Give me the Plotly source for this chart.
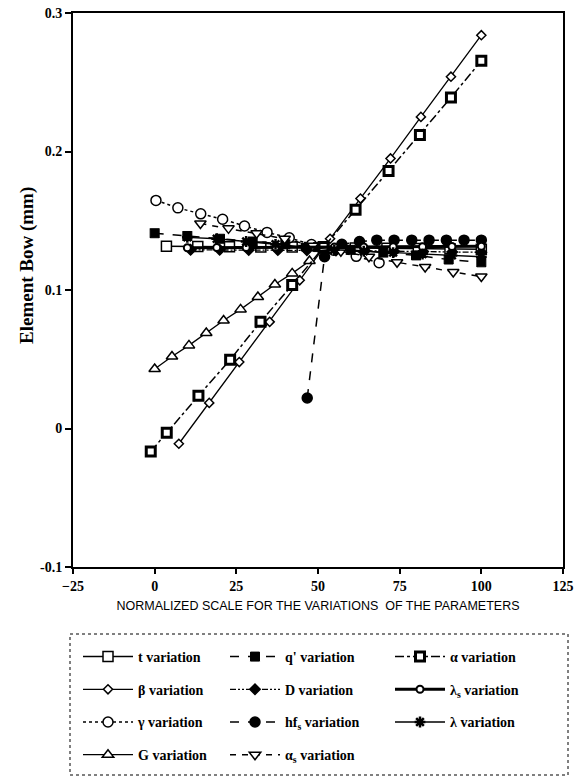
import plotly.graph_objects as go

# ---- data ----
t_x = [3.6, 13.2, 22.9, 32.5, 42.1, 51.8, 61.4, 71.1, 80.7, 90.4, 100]
t_y = [0.1316, 0.1314, 0.1313, 0.1311, 0.1310, 0.1306, 0.1304, 0.1302, 0.1300, 0.1298, 0.1295]

q_x = [0, 10, 20, 30, 40, 50, 60, 70, 80, 90, 100]
q_y = [0.141, 0.139, 0.137, 0.135, 0.133, 0.131, 0.129, 0.127, 0.125, 0.122, 0.120]

alpha_x = [-1.2, 3.7, 13.4, 23.1, 32.4, 42.1, 51.7, 61.5, 71.6, 81.2, 90.7, 100]
alpha_y = [-0.0166, -0.003, 0.0236, 0.0496, 0.077, 0.1036, 0.131, 0.158, 0.186, 0.212, 0.239, 0.2655]

beta_x = [7.4, 16.7, 25.9, 35.2, 44.4, 53.7, 63, 72.2, 81.5, 90.7, 100]
beta_y = [-0.011, 0.0185, 0.048, 0.077, 0.107, 0.137, 0.166, 0.195, 0.225, 0.254, 0.284]

d_x = [11, 19.9, 28.8, 37.7, 46.6, 55.5, 64.4, 73.3, 82.2, 91.1, 100]
d_y = [0.1290, 0.1290, 0.1289, 0.1288, 0.1287, 0.1285, 0.1283, 0.1280, 0.1278, 0.1275, 0.1272]

ls_x = [10, 19, 28, 37, 46, 55, 64, 73, 82, 91, 100]
ls_y = [0.1305, 0.1306, 0.1307, 0.1308, 0.1309, 0.1310, 0.1311, 0.1312, 0.1313, 0.1314, 0.1315]

gamma_x = [0.4, 7.1, 14.1, 20.8, 27.5, 34.4, 41.2, 48, 54.8, 61.7, 68.7]
gamma_y = [0.1647, 0.1593, 0.155, 0.1511, 0.1462, 0.1416, 0.1377, 0.1328, 0.1287, 0.1243, 0.1197]

hfs_x = [46.7, 52, 57.3, 62.7, 68, 73.3, 78.7, 84, 89.3, 94.7, 100]
hfs_y = [0.022, 0.124, 0.133, 0.135, 0.136, 0.136, 0.136, 0.136, 0.136, 0.136, 0.136]

lam_x = [10, 19, 28, 37, 46, 55, 64, 73, 82, 91, 100]
lam_y = [0.138, 0.137, 0.135, 0.133, 0.131, 0.129, 0.128, 0.127, 0.126, 0.125, 0.124]

g_x = [0, 5.3, 10.5, 15.8, 21.1, 26.3, 31.6, 36.8, 42.1, 47.4]
g_y = [0.043, 0.052, 0.060, 0.069, 0.078, 0.086, 0.095, 0.104, 0.112, 0.121]

as_x = [14, 22.6, 31.2, 39.8, 48.4, 57, 65.6, 74.2, 82.8, 91.4, 100]
as_y = [0.148, 0.1445, 0.141, 0.137, 0.132, 0.128, 0.124, 0.120, 0.1166, 0.113, 0.1097]

x_ticks = [-25, 0, 25, 50, 75, 100, 125]
y_ticks = [-0.1, 0, 0.1, 0.2, 0.3]
y_tick_labels = ["-0.1", "0", "0.1", "0.2", "0.3"]

# ---- figure ----
fig = go.Figure()

def add(x, y, name, legend, dash, width, symbol, msize, mcolor="white", mline="black", mlw=1.5):
    fig.add_trace(go.Scatter(
        x=x, y=y, name=name, legend=legend, legendgroup=name,
        mode="lines+markers",
        line=dict(color="black", width=width, dash=dash),
        marker=dict(symbol=symbol, size=msize, color=mcolor,
                    line=dict(color=mline, width=mlw)),
    ))

# column 1
add(t_x, t_y, "t variation", "legend", "solid", 1.5, "square", 10)
add(beta_x, beta_y, "β variation", "legend", "solid", 1.3, "diamond", 7)
add(gamma_x, gamma_y, "γ variation", "legend", "dot", 1.5, "circle", 10)
add(g_x, g_y, "G variation", "legend", "solid", 1.3, "triangle-up", 10)
# column 2
add(q_x, q_y, "q' variation", "legend2", "dash", 1.5, "square-x", 9, mcolor="black", mline="black", mlw=1)
add(d_x, d_y, "D variation", "legend2", "6px,2px,2px,2px,2px,2px", 1.3, "diamond", 8, mcolor="black")
add(hfs_x, hfs_y, "hf<sub>s</sub> variation", "legend2", "dash", 1.5, "circle", 10, mcolor="black")
add(as_x, as_y, "α<sub>s</sub> variation", "legend2", "6px,6px", 1.5, "triangle-down", 10)
# column 3
add(alpha_x, alpha_y, "α variation", "legend3", "dashdot", 1.5, "square", 9, mlw=3)
add(ls_x, ls_y, "λ<sub>s</sub> variation", "legend3", "solid", 3, "circle", 7, mlw=2)
add(lam_x, lam_y, "λ variation", "legend3", "solid", 1.3, "asterisk-open", 9, mcolor="black", mlw=2.5)

W, H = 575, 776
PLOT_L, PLOT_R, PLOT_T, PLOT_B = 73, 563, 13, 567   # pixels
ML = PLOT_L
MR = W - PLOT_R
MT = PLOT_T
MB = H - PLOT_B
pw = W - ML - MR
ph = H - MT - MB

def px(x):
    return (x - ML) / pw

def py(y):
    return (H - MB - y) / ph

legend_font = dict(family="Liberation Serif", size=14, color="black", weight="bold")
leg_common = dict(orientation="v", xanchor="left", yanchor="top",
                  bgcolor="rgba(0,0,0,0)", font=legend_font, itemwidth=50,
                  traceorder="grouped", tracegroupgap=11.5, borderwidth=0)

fig.update_layout(
    width=W, height=H,
    margin=dict(l=ML, r=MR, t=MT, b=MB, autoexpand=False),
    paper_bgcolor="white", plot_bgcolor="white",
    showlegend=True,
    legend=dict(x=px(78), y=py(641), **leg_common),
    legend2=dict(x=px(225), y=py(641), **leg_common),
    legend3=dict(x=px(390), y=py(641), **leg_common),
    xaxis=dict(
        range=[-25, 125], tickmode="array", tickvals=x_ticks,
        ticks="outside", ticklen=5, tickwidth=1.5, tickcolor="black",
        showline=True, linecolor="black", linewidth=2, mirror=True,
        showgrid=False, zeroline=False, automargin=False,
        ticklabeloverflow="allow",
        tickfont=dict(family="Liberation Serif", size=14, color="black", weight="bold"),
        title=dict(text="NORMALIZED SCALE FOR THE VARIATIONS  OF THE PARAMETERS",
                   font=dict(family="Liberation Sans", size=12.5, color="black"),
                   standoff=8),
    ),
    yaxis=dict(
        range=[-0.1, 0.3], tickmode="array", tickvals=y_ticks, ticktext=y_tick_labels,
        ticks="outside", ticklen=6, tickwidth=1.5, tickcolor="black",
        showline=True, linecolor="black", linewidth=2, mirror=True,
        showgrid=False, zeroline=False, automargin=False,
        ticklabeloverflow="allow",
        tickfont=dict(family="Liberation Serif", size=14, color="black", weight="bold"),
    ),
    annotations=[dict(text="Element Bow (mm)", textangle=-90, showarrow=False,
                      xref="paper", yref="paper", x=px(27), y=py(266),
                      xanchor="center", yanchor="middle",
                      font=dict(family="Liberation Serif", size=19, color="#000000", weight="bold"))],
    shapes=[dict(type="rect", xref="paper", yref="paper",
                 x0=px(70), x1=px(568),
                 y0=py(775), y1=py(634),
                 line=dict(color="black", width=1, dash="dot"))],
)

fig.write_html(
    "out.html",
    config={"displayModeBar": False},
    post_script="document.body.style.margin='0';document.body.style.overflow='hidden';",
)
